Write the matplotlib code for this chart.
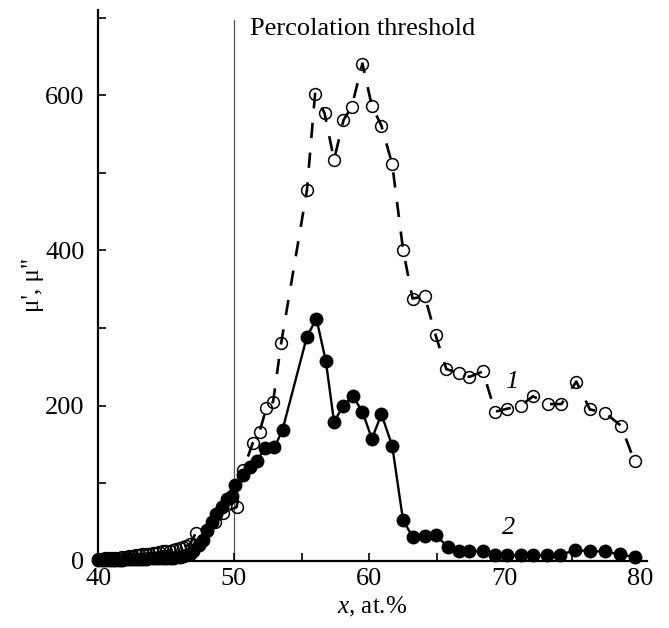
import matplotlib
matplotlib.use("Agg")
import matplotlib.pyplot as plt
from matplotlib.ticker import MultipleLocator

plt.rcParams['font.family'] = ['Liberation Serif', 'DejaVu Serif']
plt.rcParams['mathtext.fontset'] = 'custom'
plt.rcParams['mathtext.rm'] = 'Liberation Serif'
plt.rcParams['mathtext.it'] = 'Liberation Serif:italic'

# Series 1 (mu', open circles, dashed)
x1 = [40.0, 40.25, 40.5, 40.75, 41.0, 41.25, 41.5, 41.75, 42.0, 42.25, 42.5, 42.75,
      43.0, 43.25, 43.5, 43.75, 44.0, 44.25, 44.5, 44.75, 45.0, 45.25, 45.5, 45.75,
      46.0, 46.25, 46.5, 46.75, 47.2, 48.0, 48.6, 49.2, 50.2, 50.7, 51.4, 51.9, 52.4,
      52.9, 53.5, 55.4, 56.0, 56.7, 57.4, 58.1, 58.7, 59.5, 60.2, 60.9, 61.7, 62.5,
      63.2, 64.1, 64.9, 65.7, 66.6, 67.4, 68.4, 69.3, 70.2, 71.2, 72.1, 73.2, 74.2,
      75.3, 76.3, 77.4, 78.6, 79.6]
y1 = [2, 2, 3, 3, 3, 4, 4, 5, 5, 6, 6, 7,
      7, 8, 8, 9, 10, 10, 11, 12, 12, 13, 14, 15,
      16, 17, 19, 21, 36, 38, 50, 62, 69, 117, 152, 166, 197,
      205, 281, 478, 602, 577, 517, 568, 585, 641, 586, 561, 511, 401,
      338, 341, 291, 247, 242, 237, 244, 192, 196, 200, 212, 202, 202,
      231, 195, 191, 174, 128]

# Series 2 (mu'', filled circles, solid)
x2 = [40.0, 40.25, 40.5, 40.75, 41.0, 41.25, 41.5, 41.75, 42.0, 42.25, 42.5, 42.75,
      43.0, 43.25, 43.5, 43.75, 44.0, 44.25, 44.5, 44.75, 45.0, 45.25, 45.5, 45.75,
      46.0, 46.25, 46.5, 46.75, 47.0, 47.4, 47.7, 48.0, 48.4, 48.7, 49.1, 49.5, 49.9,
      50.1, 50.7, 51.2, 51.7, 52.3, 53.0, 53.6, 55.4, 56.1, 56.8, 57.4, 58.1, 58.8,
      59.5, 60.2, 60.9, 61.7, 62.5, 63.2, 64.1, 64.9, 65.8, 66.6, 67.4, 68.4, 69.3,
      70.2, 71.2, 72.1, 73.1, 74.1, 75.2, 76.3, 77.4, 78.5, 79.6]
y2 = [1, 1, 1, 1, 1, 1, 1, 1, 2, 2, 2, 2,
      2, 2, 2, 3, 3, 3, 3, 3, 4, 4, 4, 5,
      5, 6, 7, 8, 12, 20, 27, 40, 50, 60, 69, 79, 84,
      97, 110, 121, 129, 145, 146, 169, 289, 312, 257, 179, 200, 212,
      192, 157, 189, 148, 52, 31, 32, 33, 18, 13, 13, 12, 7,
      7, 7, 7, 7, 7, 14, 12, 12, 8, 5]

fig = plt.figure(figsize=(6.69, 6.28), dpi=100)
ax = fig.add_axes([0.1472, 0.1072, 0.8195, 0.8768])

ax.axvline(50, ymax=0.982, color='#555555', lw=0.9, zorder=1)

ax.plot(x1, y1, color='black', lw=1.9, dashes=(5.8, 5.5), marker='o', ms=8.5,
        mfc='none', mec='black', mew=1.1, zorder=2, clip_on=False)
ax.plot(x2, y2, color='black', lw=1.7, marker='o', ms=9,
        mfc='black', mec='black', zorder=3, clip_on=False)

ax.set_xlim(40, 80.5)
ax.set_ylim(0, 710)
ax.xaxis.set_major_locator(MultipleLocator(10))
ax.xaxis.set_minor_locator(MultipleLocator(5))
ax.yaxis.set_major_locator(MultipleLocator(200))
ax.yaxis.set_minor_locator(MultipleLocator(100))
ax.tick_params(which='both', direction='in', length=6, width=1.2, labelsize=19,
               top=False, right=False)
ax.tick_params(axis='x', pad=5)
ax.tick_params(axis='y', pad=10)
ax.spines['top'].set_visible(False)
ax.spines['right'].set_visible(False)
ax.spines['left'].set_linewidth(1.6)
ax.spines['bottom'].set_linewidth(1.6)

ax.set_xlabel('$x$, at.%', fontsize=18, labelpad=4)
ax.set_ylabel("μ', μ\"", fontsize=18, labelpad=1)

ax.text(51.2, 685, 'Percolation threshold', fontsize=19, ha='left', va='center')
ax.text(70.5, 230, '1', fontsize=19, style='italic', ha='center', va='center')
ax.text(70.3, 42, '2', fontsize=19, style='italic', ha='center', va='center')

fig.savefig('out.png', dpi=100)
